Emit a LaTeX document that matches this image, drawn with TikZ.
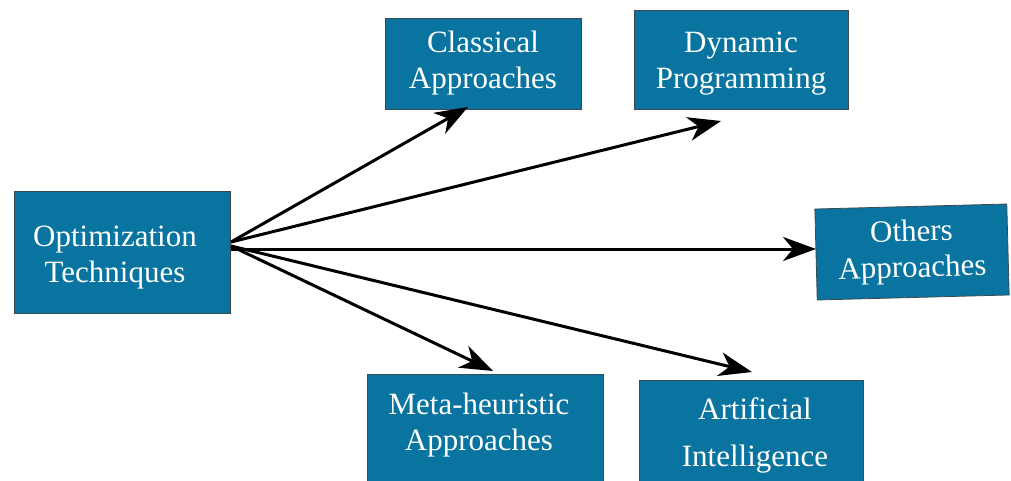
\documentclass[tikz,border=0pt]{standalone}
\usepackage{fontspec}
\setmainfont{Liberation Serif}
\usetikzlibrary{arrows.meta}
\definecolor{boxblue}{HTML}{0A74A0}
\definecolor{boxedge}{HTML}{3A4A55}
\tikzset{
  box/.style={draw=boxedge, line width=0.8pt, fill=boxblue, inner sep=0pt, outer sep=0pt, text=white, align=center, font=\fontsize{31}{36}\selectfont},
  lbl/.style={text=white, align=center, inner sep=0pt, font=\fontsize{31}{36}\selectfont},
  arr/.style={line width=3pt, -{Stealth[length=33pt,width=24pt,inset=10pt]}}
}
\begin{document}
\begin{tikzpicture}[x=1pt,y=-1pt]
\useasboundingbox (0,0) rectangle (1011,481);
\clip (0,0) rectangle (1011,481);
\node[box, minimum width=216pt, minimum height=122pt] (opt) at (122.5,252) {};
\node[lbl] (optt) at (115,257.5) {Optimization\\Techniques};
\node[box, minimum width=196pt, minimum height=91pt] (cls) at (483,63.5) {Classical\\Approaches};
\node[box, minimum width=214pt, minimum height=99pt] (dyn) at (741,59.5) {};
\node[lbl] (dynt) at (741,63.5) {Dynamic\\Programming};
\node[box, minimum width=192pt, minimum height=91pt, rotate=1.5] (oth) at (912,252) {\raisebox{5pt}{\begin{tabular}{@{}c@{}}Others\\Approaches\end{tabular}}};
\node[box, minimum width=236pt, minimum height=130pt, anchor=north west] (met) at (367,374) {};
\node[box, minimum width=224pt, minimum height=130pt, anchor=north west] (art) at (639,380) {};
\node[lbl] (mett) at (479,425) {Meta-heuristic\\Approaches};
\node[lbl, font=\fontsize{31}{47}\selectfont] (artt) at (755,435) {Artificial\\Intelligence};
\coordinate (s1) at (231,242);
\coordinate (s2) at (231,249);
\coordinate (s3) at (231,246);
\coordinate (e1) at (468,107);
\coordinate (e2) at (721,121);
\coordinate (e3) at (816,249);
\coordinate (e4) at (493,371);
\coordinate (e5) at (752,372);
\draw[arr] (s1) -- (e1);
\draw[arr] (s1) -- (e2);
\draw[arr] (s2) -- (e3);
\draw[arr] (s3) -- (e4);
\draw[arr] (s3) -- (e5);
\end{tikzpicture}
\end{document}
